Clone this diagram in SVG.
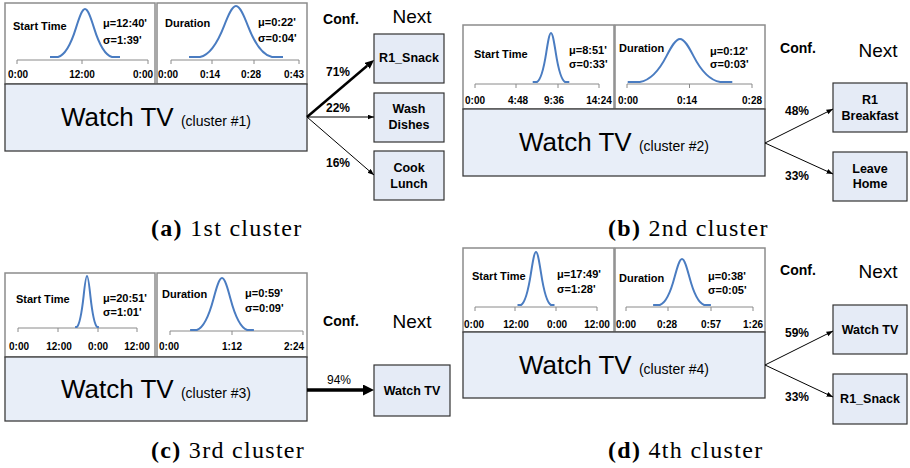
<svg xmlns="http://www.w3.org/2000/svg" width="910" height="468" viewBox="0 0 910 468">
  <style>
    .chart { fill: #ffffff; stroke: #8c8c8c; stroke-width: 1.5; }
    .main { fill: #e8eef8; stroke: #3c3c3c; stroke-width: 1.3; }
    .next { fill: #e5ebf6; stroke: #333333; stroke-width: 1.2; }
    .axis { fill: none; stroke: #8a8a8a; stroke-width: 1; }
    .bell { fill: none; stroke: #4a7cc1; stroke-width: 2; stroke-linejoin: round; }
    text { font-family: "Liberation Sans", Arial, sans-serif; fill: #000000; }
    .lbl { font-size: 11px; font-weight: bold; }
    .tick { font-size: 10px; font-weight: bold; text-anchor: middle; }
    .big { font-size: 26px; text-anchor: middle; }
    .small { font-size: 14px; }
    .boxt { font-size: 12.5px; font-weight: bold; text-anchor: middle; }
    .conf { font-size: 14px; font-weight: bold; text-anchor: middle; }
    .head { font-size: 19px; text-anchor: middle; }
    .pct { font-size: 12px; font-weight: bold; }
    .pctr { font-size: 12px; }
    .cap { font-family: "Liberation Serif", "Times New Roman", serif; font-size: 24px; letter-spacing: 1.3px; }
    .conn { fill: none; stroke: #000000; }
    .thin { stroke-width: 1; marker-end: url(#head-thin); }
  </style>
  <defs>
    <marker id="head-thin" markerUnits="userSpaceOnUse" markerWidth="7" markerHeight="6" refX="6.5" refY="2.5" orient="auto">
      <path d="M0,0 L6.5,2.5 L0,5 z" fill="#000"/>
    </marker>
    <marker id="head-bold" markerUnits="userSpaceOnUse" markerWidth="10" markerHeight="9" refX="0" refY="4" orient="auto">
      <path d="M0,0 L9,4 L0,8 z" fill="#000"/>
    </marker>
    <marker id="head-heavy" markerUnits="userSpaceOnUse" markerWidth="12" markerHeight="12" refX="0" refY="5.5" orient="auto">
      <path d="M0,0 L11,5.5 L0,11 z" fill="#000"/>
    </marker>
  </defs>

  <!-- ===== (a) cluster 1 ===== -->
  <g id="a-start-chart">
    <rect class="chart" x="5" y="3" width="150" height="81"/>
    <path class="axis" d="M17,60 H148 M17,60 V64 M82,60 V64 M148,60 V64"/>
    <path class="bell" d="M50,57 L58,57 C64,55.4 70,47.3 76,27.9 C79,18.2 82,9 85,9 C88,9 91,18.2 94,27.9 C100,47.3 106,55.4 112,57 L120,57"/>
    <text class="lbl" x="13" y="30">Start Time</text>
    <text class="lbl" x="103" y="27">μ=12:40'</text>
    <text class="lbl" x="103" y="44">σ=1:39'</text>
    <text class="tick" x="18" y="78">0:00</text>
    <text class="tick" x="82" y="78">12:00</text>
    <text class="tick" x="143" y="78">0:00</text>
  </g>
  <g id="a-duration-chart">
    <rect class="chart" x="157" y="3" width="150" height="81"/>
    <path class="axis" d="M171,60 H299 M171,60 V64 M212,60 V64 M254,60 V64 M299,60 V64"/>
    <path class="bell" d="M189,57 L200,57 C208,55.3 216,46.7 224,26.1 C228,15.7 232,6 236,6 C240,6 244,15.7 248,26.1 C256,46.7 264,55.3 272,57 L283,57"/>
    <text class="lbl" x="165" y="27">Duration</text>
    <text class="lbl" x="258" y="26">μ=0:22'</text>
    <text class="lbl" x="258" y="42">σ=0:04'</text>
    <text class="tick" x="168" y="78">0:00</text>
    <text class="tick" x="210" y="78">0:14</text>
    <text class="tick" x="251" y="78">0:28</text>
    <text class="tick" x="294" y="78">0:43</text>
  </g>
  <g id="a-main">
    <rect class="main" x="5" y="84" width="302" height="67"/>
    <text class="big" x="156" y="126">Watch TV <tspan class="small">(cluster #1)</tspan></text>
  </g>
  <text class="conf" x="341" y="24">Conf.</text>
  <text class="head" x="412" y="23">Next</text>
  <g id="a-next-snack">
    <rect class="next" x="374" y="34" width="70" height="49"/>
    <text class="boxt" x="409" y="62">R1_Snack</text>
  </g>
  <g id="a-next-dishes">
    <rect class="next" x="374" y="93" width="70" height="49"/>
    <text class="boxt" x="409" y="113">Wash</text>
    <text class="boxt" x="409" y="129">Dishes</text>
  </g>
  <g id="a-next-lunch">
    <rect class="next" x="374" y="151" width="70" height="49"/>
    <text class="boxt" x="409" y="172">Cook</text>
    <text class="boxt" x="409" y="188">Lunch</text>
  </g>
  <text class="cap" x="151" y="236"><tspan font-weight="bold">(a)</tspan> 1st cluster</text>

  <!-- ===== (b) cluster 2 ===== -->
  <g id="b-start-chart">
    <rect class="chart" x="463" y="25" width="151" height="84"/>
    <path class="axis" d="M475,84 H599 M475,84 V88 M516,84 V88 M558,84 V88 M599,84 V88"/>
    <path class="bell" d="M532.7,82 L536.9,82 C540,80.4 543.2,72.1 546.3,52.3 C547.9,42.4 549.4,33 551,33 C552.6,33 554.1,42.4 555.7,52.3 C558.8,72.1 562,80.4 565.1,82 L569.3,82"/>
    <text class="lbl" x="474" y="58">Start Time</text>
    <text class="lbl" x="569" y="54">μ=8:51'</text>
    <text class="lbl" x="569" y="68">σ=0:33'</text>
    <text class="tick" x="475" y="104">0:00</text>
    <text class="tick" x="518" y="104">4:48</text>
    <text class="tick" x="554" y="104">9:36</text>
    <text class="tick" x="599" y="104">14:24</text>
  </g>
  <g id="b-duration-chart">
    <rect class="chart" x="615" y="25" width="150" height="84"/>
    <path class="axis" d="M627,84 H752 M627,84 V88 M689.5,84 V88 M752,84 V88"/>
    <path class="bell" d="M627.7,82 L639.8,82 C648.7,80.6 657.7,73.3 666.6,55.9 C671.1,47.2 675.5,39 680,39 C684.5,39 688.9,47.2 693.4,55.9 C702.3,73.3 711.3,80.6 720.2,82 L732.3,82"/>
    <text class="lbl" x="619" y="52">Duration</text>
    <text class="lbl" x="710" y="55">μ=0:12'</text>
    <text class="lbl" x="710" y="68">σ=0:03'</text>
    <text class="tick" x="628" y="104">0:00</text>
    <text class="tick" x="687" y="104">0:14</text>
    <text class="tick" x="752" y="104">0:28</text>
  </g>
  <g id="b-main">
    <rect class="main" x="463" y="109" width="302" height="67"/>
    <text class="big" x="614" y="151">Watch TV <tspan class="small">(cluster #2)</tspan></text>
  </g>
  <text class="conf" x="798" y="53">Conf.</text>
  <text class="head" x="878" y="57">Next</text>
  <g id="b-next-breakfast">
    <rect class="next" x="833" y="83" width="74" height="49"/>
    <text class="boxt" x="870" y="104">R1</text>
    <text class="boxt" x="870" y="120">Breakfast</text>
  </g>
  <g id="b-next-leave">
    <rect class="next" x="833" y="152" width="74" height="49"/>
    <text class="boxt" x="870" y="173">Leave</text>
    <text class="boxt" x="870" y="188">Home</text>
  </g>
  <text class="cap" x="608" y="236"><tspan font-weight="bold">(b)</tspan> 2nd cluster</text>

  <!-- ===== (c) cluster 3 ===== -->
  <g id="c-start-chart">
    <rect class="chart" x="5" y="273" width="150" height="84"/>
    <path class="axis" d="M18,328 H137 M18,328 V332 M58,328 V332 M98,328 V332 M137,328 V332"/>
    <path class="bell" d="M75.1,327 L76.8,327 C79.1,325.3 81.3,316.7 83.6,296.1 C84.7,285.7 85.9,276 87,276 C88.1,276 89.3,285.7 90.4,296.1 C92.7,316.7 94.9,325.3 97.2,327 L98.9,327"/>
    <text class="lbl" x="16" y="303">Start Time</text>
    <text class="lbl" x="103" y="302">μ=20:51'</text>
    <text class="lbl" x="103" y="316">σ=1:01'</text>
    <text class="tick" x="19" y="350">0:00</text>
    <text class="tick" x="59" y="350">12:00</text>
    <text class="tick" x="98" y="350">0:00</text>
    <text class="tick" x="137" y="350">12:00</text>
  </g>
  <g id="c-duration-chart">
    <rect class="chart" x="157" y="273" width="150" height="84"/>
    <path class="axis" d="M170,331 H303 M170,331 V335 M232,331 V335 M303,331 V335"/>
    <path class="bell" d="M190.1,330 L196.8,330 C202.4,328.3 208,319.5 213.6,298.5 C216.4,287.9 219.2,278 222,278 C224.8,278 227.6,287.9 230.4,298.5 C236,319.5 241.6,328.3 247.2,330 L253.9,330"/>
    <text class="lbl" x="162" y="298">Duration</text>
    <text class="lbl" x="245" y="297">μ=0:59'</text>
    <text class="lbl" x="245" y="312">σ=0:09'</text>
    <text class="tick" x="169" y="350">0:00</text>
    <text class="tick" x="232" y="350">1:12</text>
    <text class="tick" x="294" y="350">2:24</text>
  </g>
  <g id="c-main">
    <rect class="main" x="5" y="357" width="302" height="64"/>
    <text class="big" x="156" y="398">Watch TV <tspan class="small">(cluster #3)</tspan></text>
  </g>
  <text class="conf" x="341" y="326">Conf.</text>
  <text class="head" x="412" y="328">Next</text>
  <g id="c-next-tv">
    <rect class="next" x="374" y="365" width="76" height="51"/>
    <text class="boxt" x="412" y="395">Watch TV</text>
  </g>
  <text class="cap" x="151" y="458"><tspan font-weight="bold">(c)</tspan> 3rd cluster</text>

  <!-- ===== (d) cluster 4 ===== -->
  <g id="d-start-chart">
    <rect class="chart" x="463" y="248" width="151" height="84"/>
    <path class="axis" d="M475,307 H597 M475,307 V311 M515,307 V311 M556,307 V311 M597,307 V311"/>
    <path class="bell" d="M517.5,305 L521,305 C524.3,303.3 527.7,294.3 531,272.9 C532.7,262.1 534.3,252 536,252 C537.7,252 539.3,262.1 541,272.9 C544.3,294.3 547.7,303.3 551,305 L554.5,305"/>
    <text class="lbl" x="472" y="280">Start Time</text>
    <text class="lbl" x="557" y="278">μ=17:49'</text>
    <text class="lbl" x="557" y="293">σ=1:28'</text>
    <text class="tick" x="474" y="328">0:00</text>
    <text class="tick" x="516" y="328">12:00</text>
    <text class="tick" x="557" y="328">0:00</text>
    <text class="tick" x="597" y="328">12:00</text>
  </g>
  <g id="d-duration-chart">
    <rect class="chart" x="615" y="248" width="150" height="84"/>
    <path class="axis" d="M626,307 H753 M626,307 V311 M668,307 V311 M711,307 V311 M753,307 V311"/>
    <path class="bell" d="M653.1,305 L659.8,305 C664.7,303.5 669.7,295.7 674.6,277.1 C677.1,267.8 679.5,259 682,259 C684.5,259 686.9,267.8 689.4,277.1 C694.3,295.7 699.3,303.5 704.2,305 L710.9,305"/>
    <text class="lbl" x="619" y="282">Duration</text>
    <text class="lbl" x="708" y="280">μ=0:38'</text>
    <text class="lbl" x="708" y="294">σ=0:05'</text>
    <text class="tick" x="626" y="328">0:00</text>
    <text class="tick" x="667" y="328">0:28</text>
    <text class="tick" x="711" y="328">0:57</text>
    <text class="tick" x="753" y="328">1:26</text>
  </g>
  <g id="d-main">
    <rect class="main" x="463" y="332" width="302" height="66"/>
    <text class="big" x="614" y="374">Watch TV <tspan class="small">(cluster #4)</tspan></text>
  </g>
  <text class="conf" x="798" y="275">Conf.</text>
  <text class="head" x="878" y="278">Next</text>
  <g id="d-next-tv">
    <rect class="next" x="833" y="305" width="74" height="49"/>
    <text class="boxt" x="870" y="334">Watch TV</text>
  </g>
  <g id="d-next-snack">
    <rect class="next" x="833" y="374" width="74" height="50"/>
    <text class="boxt" x="870" y="403">R1_Snack</text>
  </g>
  <text class="cap" x="608" y="458"><tspan font-weight="bold">(d)</tspan> 4th cluster</text>

  <!-- transitions with confidence labels -->
  <g id="connectors">
    <line class="conn" x1="307" y1="117" x2="367.2" y2="65.8" stroke-width="2.5" marker-end="url(#head-bold)"/>
    <line class="conn thin" x1="307" y1="117" x2="374" y2="117"/>
    <line class="conn thin" x1="307" y1="117" x2="374" y2="175"/>
    <line class="conn thin" x1="765" y1="143" x2="833" y2="109"/>
    <line class="conn thin" x1="765" y1="143" x2="833" y2="174"/>
    <line class="conn" x1="307" y1="390" x2="363" y2="390" stroke-width="3.5" marker-end="url(#head-heavy)"/>
    <line class="conn thin" x1="765" y1="365" x2="833" y2="331"/>
    <line class="conn thin" x1="765" y1="365" x2="833" y2="397"/>
    <text class="pct" x="326" y="76">71%</text>
    <text class="pct" x="326" y="112">22%</text>
    <text class="pct" x="326" y="167">16%</text>
    <text class="pct" x="785" y="115">48%</text>
    <text class="pct" x="785" y="180">33%</text>
    <text class="pctr" x="327" y="384">94%</text>
    <text class="pct" x="785" y="337">59%</text>
    <text class="pct" x="785" y="401">33%</text>
  </g>
</svg>
